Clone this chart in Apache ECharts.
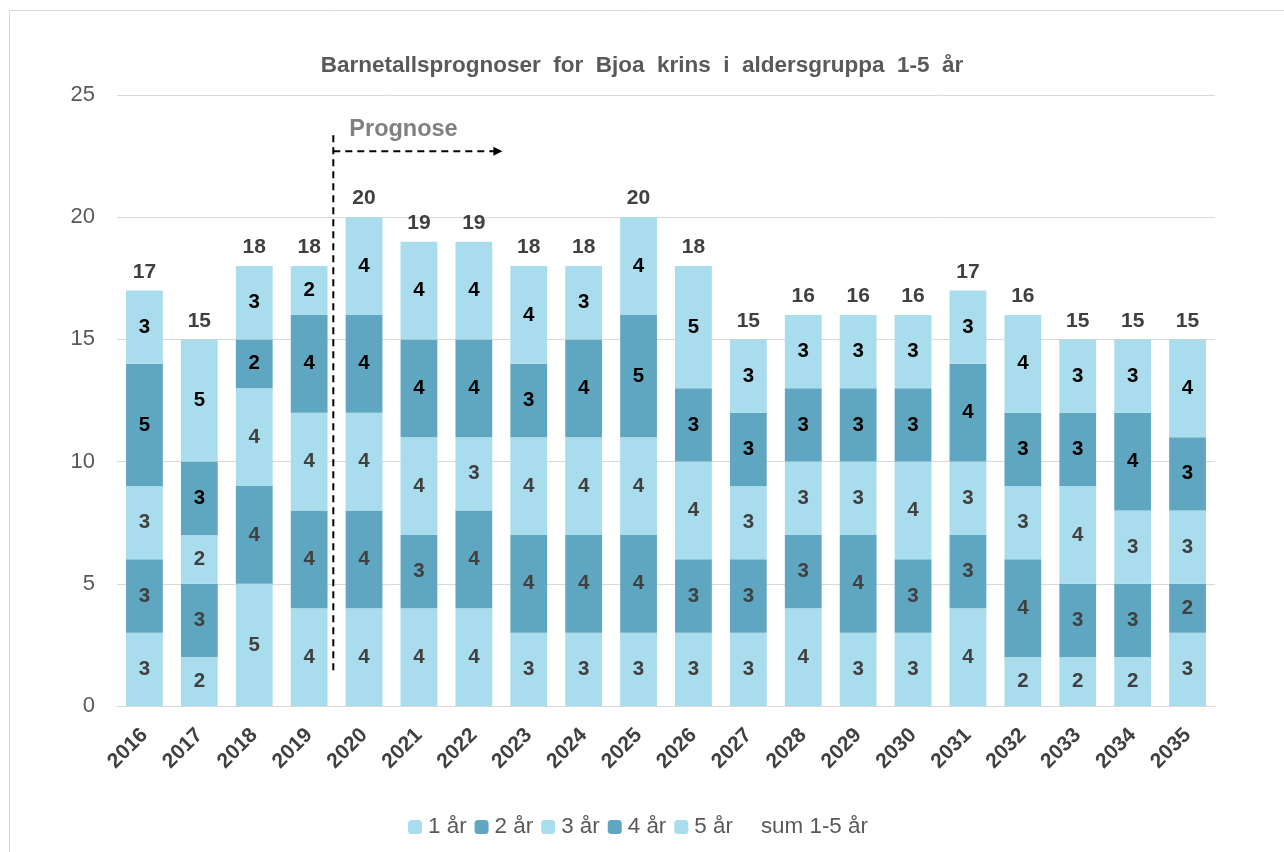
<!DOCTYPE html>
<html>
<head>
<meta charset="utf-8">
<script src="https://cdn.jsdelivr.net/npm/echarts@6/dist/echarts.min.js"></script>
<style>
html, body { margin: 0; padding: 0; background: #fff; }
#chart { width: 1284px; height: 852px; }
</style>
</head>
<body>
<div id="chart"></div>
<script>
const years = ['2016', '2017', '2018', '2019', '2020', '2021', '2022', '2023', '2024', '2025',
  '2026', '2027', '2028', '2029', '2030', '2031', '2032', '2033', '2034', '2035'];
const age1 = [3, 2, 5, 4, 4, 4, 4, 3, 3, 3, 3, 3, 4, 3, 3, 4, 2, 2, 2, 3];
const age2 = [3, 3, 4, 4, 4, 3, 4, 4, 4, 4, 3, 3, 3, 4, 3, 3, 4, 3, 3, 2];
const age3 = [3, 2, 4, 4, 4, 4, 3, 4, 4, 4, 4, 3, 3, 3, 4, 3, 3, 4, 3, 3];
const age4 = [5, 3, 2, 4, 4, 4, 4, 3, 4, 5, 3, 3, 3, 3, 3, 4, 3, 3, 4, 3];
const age5 = [3, 5, 3, 2, 4, 4, 4, 4, 3, 4, 5, 3, 3, 3, 3, 3, 4, 3, 3, 4];
const yTicks = [0, 5, 10, 15, 20, 25];

const totals = years.map((y, i) => age1[i] + age2[i] + age3[i] + age4[i] + age5[i]);

const lightColor = '#a9dcec';
const darkColor = '#5fa7c0';
const font = '"Liberation Sans", Arial, sans-serif';

const chart = echarts.init(document.getElementById('chart'));

function stackSeries(name, data, color, labelColor) {
  return {
    name,
    type: 'bar',
    stack: 'sum',
    data,
    barWidth: '67%',
    itemStyle: { color },
    label: {
      show: true,
      position: 'inside',
      fontFamily: font,
      fontSize: 20.5,
      fontWeight: 'bold',
      color: labelColor,
    },
  };
}

const option = {
  animation: false,
  textStyle: { fontFamily: font },
  title: {
    text: 'Barnetallsprognoser  for  Bjoa  krins  i  aldersgruppa  1-5  år',
    left: 'center',
    top: 49,
    textStyle: { fontFamily: font, fontSize: 22.5, fontWeight: 'bold', color: '#595959' },
  },
  grid: { left: 117, right: 69, top: 95, bottom: 146 },
  legend: {
    bottom: 9,
    left: 403,
    itemWidth: 14,
    itemHeight: 14,
    itemGap: 8,
    textStyle: { fontFamily: font, fontSize: 22.4, color: '#595959', padding: [0, 0, 0, 1] },
    data: [
      { name: '1 år' }, { name: '2 år' }, { name: '3 år' }, { name: '4 år' }, { name: '5 år' },
      { name: 'sum 1-5 år', icon: 'rect', itemStyle: { color: 'rgba(0,0,0,0)' } },
    ],
  },
  xAxis: {
    type: 'category',
    data: years,
    axisTick: { show: false },
    axisLine: { lineStyle: { color: '#d9d9d9', width: 1 } },
    axisLabel: {
      rotate: 45,
      interval: 0,
      margin: 26,
      fontFamily: font,
      fontSize: 21,
      fontWeight: 'bold',
      color: '#404040',
    },
  },
  yAxis: {
    type: 'value',
    min: yTicks[0],
    max: yTicks[yTicks.length - 1],
    interval: 5,
    axisLine: { show: false },
    axisTick: { show: false },
    splitLine: { lineStyle: { color: '#d9d9d9', width: 1 } },
    axisLabel: { margin: 22, fontFamily: font, fontSize: 22, color: '#595959' },
  },
  series: [
    stackSeries('1 år', age1, lightColor, '#404040'),
    stackSeries('2 år', age2, darkColor, '#404040'),
    stackSeries('3 år', age3, lightColor, '#404040'),
    stackSeries('4 år', age4, darkColor, '#000000'),
    stackSeries('5 år', age5, lightColor, '#000000'),
    {
      name: 'sum 1-5 år',
      type: 'bar',
      data: totals,
      barWidth: '67%',
      barGap: '-100%',
      z: 1,
      itemStyle: { color: 'rgba(0,0,0,0)' },
      label: {
        show: true,
        position: 'top',
        distance: 8,
        fontFamily: font,
        fontSize: 21,
        fontWeight: 'bold',
        color: '#404040',
      },
    },
  ],
};

chart.setOption(option);

// "Prognose" arrow, placed between 2019 and 2020 via the chart's own scales
const xa = chart.convertToPixel({ xAxisIndex: 0 }, '2019');
const xb = chart.convertToPixel({ xAxisIndex: 0 }, '2020');
const step = xb - xa;
const xLine = xa + step * 0.44;
const yTop = chart.convertToPixel({ yAxisIndex: 0 }, 23.35);
const yH = chart.convertToPixel({ yAxisIndex: 0 }, 22.7);
const yBottom = chart.convertToPixel({ yAxisIndex: 0 }, 1.3);
const yText = chart.convertToPixel({ yAxisIndex: 0 }, 23.6);
const xEnd = xLine + step * 3.08;
const dash = { stroke: '#000', lineWidth: 2, lineDash: [7, 5] };

chart.setOption({
  graphic: [
    {
      type: 'rect',
      shape: { x: 9.5, y: 10.5, width: 1290, height: 860 },
      style: { fill: 'none', stroke: '#d9d9d9', lineWidth: 1 },
      silent: true,
      z: -10,
    },
    { type: 'line', shape: { x1: xLine, y1: yTop, x2: xLine, y2: yBottom }, style: dash, silent: true, z: 20 },
    { type: 'line', shape: { x1: xLine, y1: yH, x2: xEnd - 8, y2: yH }, style: dash, silent: true, z: 20 },
    {
      type: 'polygon',
      shape: { points: [[xEnd - 9, yH - 4.5], [xEnd, yH], [xEnd - 9, yH + 4.5]] },
      style: { fill: '#000' },
      silent: true,
      z: 20,
    },
    {
      type: 'text',
      x: xLine + 16,
      y: yText,
      style: { text: 'Prognose', font: 'bold 23.5px ' + font, fill: '#808080', verticalAlign: 'middle' },
      silent: true,
      z: 20,
    },
  ],
});
</script>
</body>
</html>
